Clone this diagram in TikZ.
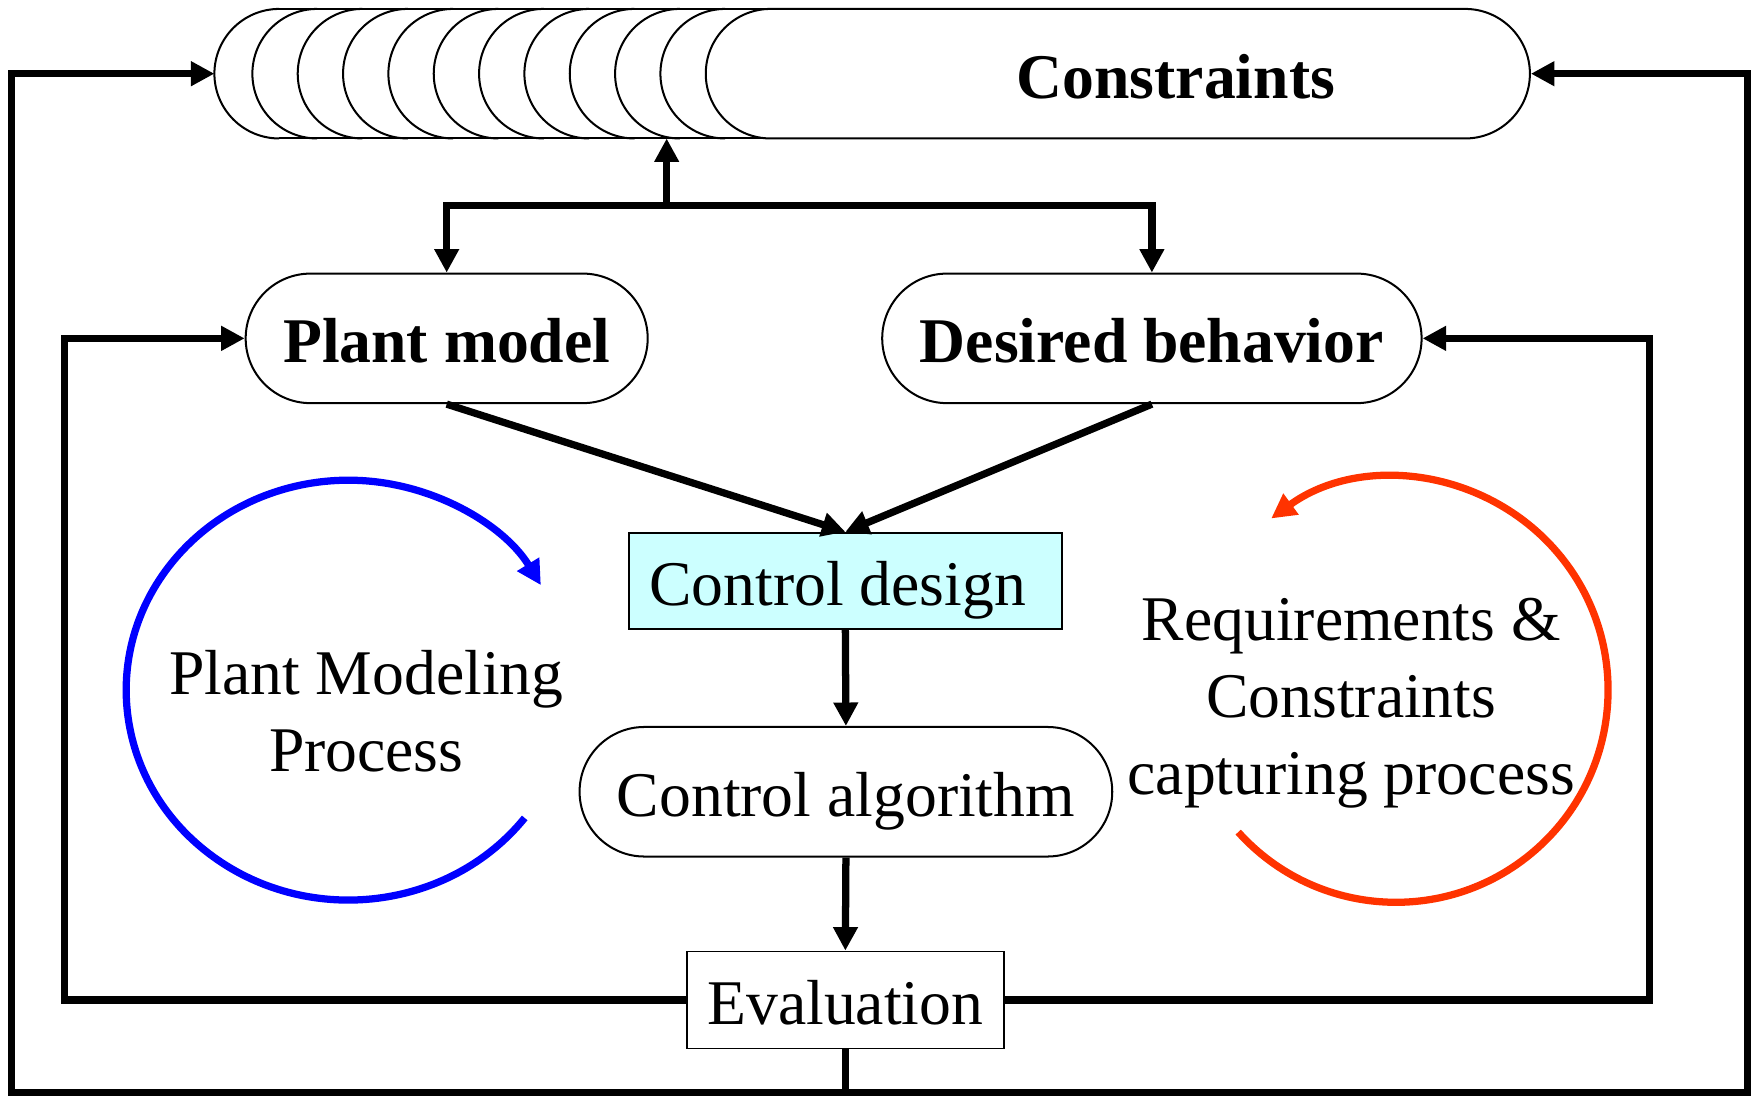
\documentclass[tikz,border=0pt]{standalone}
\usepackage{fontspec}
\setmainfont{Liberation Serif}
\usetikzlibrary{arrows.meta,calc}
\definecolor{cyanfill}{HTML}{CCFFFF}
\definecolor{redarc}{HTML}{FF3300}
\definecolor{bluearc}{HTML}{0000FF}
\tikzset{
  flow/.style={line width=6.5pt,-{Triangle[length=21pt,width=21pt]}},
  plainline/.style={line width=6.5pt},
  pill/.style={draw,fill=white,line width=1.8pt,rounded corners=58pt,minimum height=116pt,inner sep=0pt,text height=44pt,text depth=0pt,font=\fontsize{57}{69}\selectfont\bfseries},
  pillreg/.style={pill,font=\fontsize{57}{69}\selectfont},
  boxnode/.style={draw,line width=1.5pt,inner sep=0pt,text height=44pt,text depth=0pt,font=\fontsize{57}{69}\selectfont},
  txt/.style={align=center,inner sep=0pt,font=\fontsize{57}{69}\selectfont},
  cyc/.style={line width=6.5pt,-{Triangle[length=22pt,width=22pt]}},
  stackarc/.style={line width=1.8pt}
}
\begin{document}
\begin{tikzpicture}[x=1pt,y=1pt]
\useasboundingbox (0,0) rectangle (1568,-981);
% stacked constraint outlines
\foreach \xx in {192,226,266.6,307.2,347.8,388.4,429,469.6,510.2,550.8,591.4}{
  \draw[stackarc] (\xx+58,-8) arc[start angle=90,end angle=270,radius=58];
}
\draw[stackarc] (250,-8) -- (700,-8);
\draw[stackarc] (250,-124) -- (700,-124);
\node[pill,minimum width=738pt] (constraints) at (1001,-66) {\hspace*{104pt}Constraints};
\coordinate (stackL) at (192,-66);
\coordinate (stackB) at (597,-124);

% main nodes
\node[pill,minimum width=360pt] (plant) at (400,-303) {Plant model};
\node[pill,minimum width=483pt] (desired) at (1031.5,-303) {Desired behavior};
\node[boxnode,fill=cyanfill,minimum width=388pt,minimum height=86pt] (design) at (757,-520) {Control design\hspace*{14pt}};
\node[pillreg,minimum width=477pt] (algo) at (757.5,-709) {Control algorithm};
\node[boxnode,fill=white,minimum width=284pt,minimum height=87pt] (eval) at (757,-895.5) {Evaluation};

% process labels
\node[txt] (pmp) at (328,-637) {Plant Modeling\\Process};
\node[txt] (rcp) at (1210,-630) {Requirements \&\\Constraints\\capturing process};

% cycle arrows
\draw[cyc,draw=bluearc] (312,-618) ++(-37.5:199 and 188) arc[start angle=-37.5,end angle=-330,x radius=199,y radius=188];
\draw[cyc,draw=redarc] (1250,-618) ++(222:190) arc[start angle=222,end angle=486,radius=190];

% top branching
\coordinate (branch) at (597,-184);
\draw[flow] (branch) -- (stackB);
\draw[flow] (branch) -| (plant.north);
\draw[flow] (branch) -| (desired.north);

% flow to design
\draw[flow] (plant.south) -- (design.north);
\draw[flow] (desired.south) -- (design.north);
\draw[flow] (design.south) -- (algo.north);
\draw[flow] (algo.south) -- (eval.north);

% inner feedback loops
\coordinate (il) at (58,-895.5);
\coordinate (ir) at (1477,-895.5);
\draw[flow] (eval.west) -- (il) |- (plant.west);
\draw[flow] (eval.east) -- (ir) |- (desired.east);

% outer feedback loops
\coordinate (bl) at (10,-978);
\coordinate (br) at (1565,-978);
\draw[flow] (eval.south) |- (bl) |- (stackL);
\draw[flow] (eval.south) |- (br) |- (constraints.east);
\end{tikzpicture}
\end{document}
